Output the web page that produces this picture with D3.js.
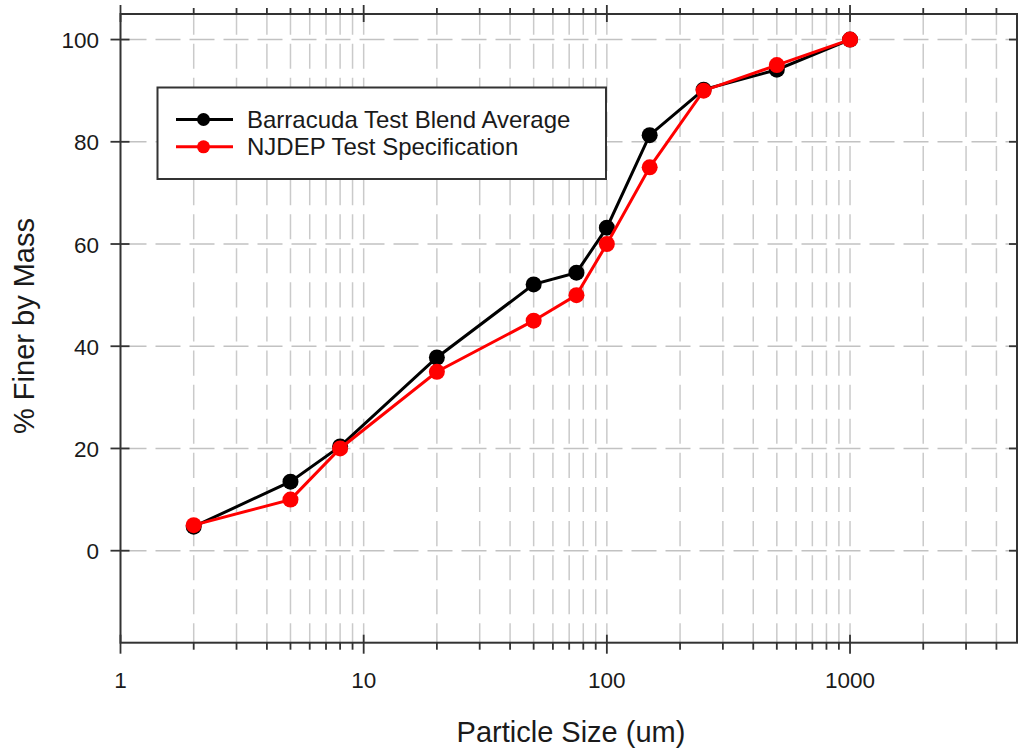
<!DOCTYPE html>
<html>
<head>
<meta charset="utf-8">
<script src="https://cdn.jsdelivr.net/npm/d3@7"></script>
<style>
  body { margin: 0; background: #fff; }
  text { font-family: "Liberation Sans", Arial, sans-serif; fill: #1a1a1a; }
</style>
</head>
<body>
<script>
// particle sizes (um) and % finer by mass
const sizes = [2, 5, 8, 20, 50, 75, 100, 150, 250, 500, 1000];
const barracuda = [4.7, 13.5, 20.4, 37.8, 52.1, 54.4, 63.2, 81.3, 90.2, 94.1, 100];
const njdep = [5, 10, 20, 35, 45, 50, 60, 75, 90, 95, 100];

const seriesNames = ["Barracuda Test Blend Average", "NJDEP Test Specification"];
const seriesColors = ["#000000", "#ff0000"];

const xMajor = [1, 10, 100, 1000];
const yTicks = [0, 20, 40, 60, 80, 100];

const width = 1019, height = 753;
const plotL = 120.5, plotR = 1017, plotT = 14, plotB = 642.7;

const svg = d3.select("body").append("svg")
  .attr("width", width)
  .attr("height", height);

const x = d3.scaleLog().domain([1, 4860]).range([plotL, plotR]);
const y = d3.scaleLinear().domain([-18, 105]).range([plotB, plotT]);

// minor log values 2..9 per decade inside the domain
const xMinor = [];
[1, 10, 100, 1000].forEach(dec => {
  for (let k = 2; k <= 9; k++) {
    const v = dec * k;
    if (v < x.domain()[1]) xMinor.push(v);
  }
});
const xGrid = xMinor.concat(xMajor.slice(1));

// grid
const period = y(0) - y(20 / 3);
const vOffset = 25.1 + 4.5 - ((plotB - y(0)) % period);
svg.append("g").selectAll("line")
  .data(xGrid).enter().append("line")
  .attr("x1", d => x(d)).attr("x2", d => x(d))
  .attr("y1", plotB).attr("y2", plotT)
  .attr("stroke", "#cacaca")
  .attr("stroke-width", 1.5)
  .attr("stroke-dasharray", "25.1,9")
  .attr("stroke-dashoffset", vOffset);

svg.append("g").selectAll("line")
  .data(yTicks).enter().append("line")
  .attr("x1", plotL).attr("x2", plotR)
  .attr("y1", d => y(d)).attr("y2", d => y(d))
  .attr("stroke", "#c2c2c2")
  .attr("stroke-width", 1.5)
  .attr("stroke-dasharray", "25,9")
  .attr("stroke-dashoffset", -1);

// frame
svg.append("rect")
  .attr("x", plotL).attr("y", plotT)
  .attr("width", plotR - plotL).attr("height", plotB - plotT)
  .attr("fill", "none")
  .attr("stroke", "#333")
  .attr("stroke-width", 2);

// tick marks
const ticks = svg.append("g").attr("stroke", "#333").attr("stroke-width", 1.8);
xMinor.forEach(v => {
  ticks.append("line").attr("x1", x(v)).attr("x2", x(v)).attr("y1", plotB).attr("y2", plotB + 7);
  ticks.append("line").attr("x1", x(v)).attr("x2", x(v)).attr("y1", plotT).attr("y2", plotT - 6);
});
xMajor.forEach(v => {
  ticks.append("line").attr("x1", x(v)).attr("x2", x(v)).attr("y1", plotB - 8).attr("y2", plotB + 11);
  ticks.append("line").attr("x1", x(v)).attr("x2", x(v)).attr("y1", plotT + 8).attr("y2", plotT - 9);
});
yTicks.forEach(v => {
  ticks.append("line").attr("x1", plotL - 10).attr("x2", plotL + 9).attr("y1", y(v)).attr("y2", y(v));
  ticks.append("line").attr("x1", plotR - 8).attr("x2", plotR).attr("y1", y(v)).attr("y2", y(v));
});

// tick labels
svg.append("g").selectAll("text")
  .data(xMajor).enter().append("text")
  .attr("x", d => x(d)).attr("y", 688)
  .attr("text-anchor", "middle")
  .attr("font-size", 22.5)
  .text(d => d);

svg.append("g").selectAll("text")
  .data(yTicks).enter().append("text")
  .attr("x", 99).attr("y", d => y(d) + 8.5)
  .attr("text-anchor", "end")
  .attr("font-size", 22.5)
  .text(d => d);

// axis titles
svg.append("text")
  .attr("x", 571).attr("y", 742)
  .attr("text-anchor", "middle")
  .attr("font-size", 29)
  .text("Particle Size (um)");

svg.append("text")
  .attr("transform", "translate(34,326) rotate(-90)")
  .attr("text-anchor", "middle")
  .attr("font-size", 29)
  .text("% Finer by Mass");

// series
const line = d3.line().x(d => x(d[0])).y(d => y(d[1]));
[barracuda, njdep].forEach((vals, i) => {
  const pts = sizes.map((s, j) => [s, vals[j]]);
  const g = svg.append("g");
  g.append("path")
    .attr("d", line(pts))
    .attr("fill", "none")
    .attr("stroke", seriesColors[i])
    .attr("stroke-width", 3);
  g.selectAll("circle").data(pts).enter().append("circle")
    .attr("cx", d => x(d[0])).attr("cy", d => y(d[1]))
    .attr("r", 8)
    .attr("fill", seriesColors[i]);
});

// legend
const lg = svg.append("g");
lg.append("rect")
  .attr("x", 157.5).attr("y", 87.5)
  .attr("width", 448.5).attr("height", 91.5)
  .attr("fill", "#fff")
  .attr("stroke", "#333")
  .attr("stroke-width", 2);
seriesNames.forEach((name, i) => {
  const ly = 119.5 + i * 27.3;
  lg.append("line")
    .attr("x1", 176).attr("x2", 233)
    .attr("y1", ly).attr("y2", ly)
    .attr("stroke", seriesColors[i])
    .attr("stroke-width", 3);
  lg.append("circle")
    .attr("cx", 203.5).attr("cy", ly)
    .attr("r", 6.5)
    .attr("fill", seriesColors[i]);
  lg.append("text")
    .attr("x", 247).attr("y", ly + 8.5)
    .attr("font-size", 24)
    .text(name);
});
</script>
</body>
</html>
